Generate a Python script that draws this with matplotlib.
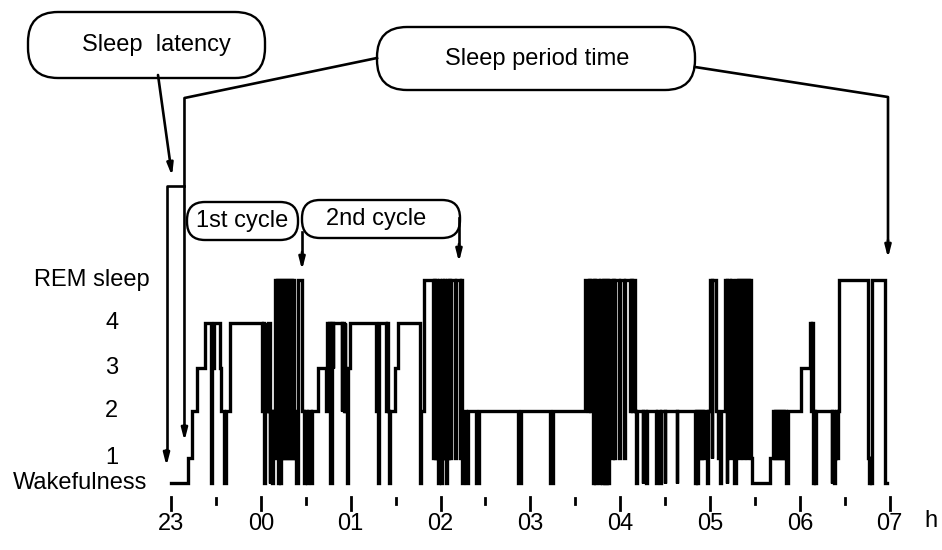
import matplotlib.pyplot as plt
from matplotlib.patches import FancyBboxPatch

plt.rcParams['font.family'] = ['Liberation Sans', 'DejaVu Sans']

# hypnogram: minute (after 23:00) at which each stage starts
times = [0, 11.4, 13.7, 17.4, 22.7, 27.0, 27.7, 28.7, 32.7, 33.7, 35.7, 36.7, 39.1,
         60.8, 61.4, 62.4, 63.1, 63.8, 64.4, 65.1, 65.8, 66.4, 67.4, 68.1,
         69.5, 70.1, 70.8, 71.5, 72.1, 72.8, 73.5, 74.1, 74.8, 75.5, 76.1, 76.8,
         77.5, 78.1, 78.8, 79.5, 80.1, 80.8, 81.5, 82.1, 82.8, 83.8, 84.5,
         87.8, 88.5, 89.2, 90.5, 91.2, 93.5, 94.2, 98.2,
         103.8, 104.5, 105.2, 105.8, 106.5, 107.2, 107.9, 108.5,
         113.9, 114.5, 115.2, 115.9, 116.5, 117.2, 117.9, 119.2,
         137.2, 137.9, 138.6, 139.2, 143.6, 144.2, 144.9, 145.6, 146.2, 149.6, 151.9,
         166.3, 167.0, 169.0, 175.0, 175.6, 176.3, 177.0, 177.6, 178.3, 179.0,
         179.6, 180.3, 181.0, 181.6, 182.3, 183.0, 183.6, 184.3, 185.0, 185.6,
         186.3, 187.0, 189.7, 190.3, 193.0, 193.7, 194.3, 195.0, 195.7,
         197.0, 198.0, 204.0, 205.4, 231.7, 233.4, 253.1, 255.1,
         276.5, 278.5, 279.1, 279.8, 280.5, 281.8, 282.5, 283.2, 283.8, 285.8,
         286.5, 287.8, 288.5, 289.2, 289.8, 290.5, 291.2, 291.8, 292.5, 294.5,
         295.2, 295.8, 296.5, 299.2, 299.8, 302.5, 303.2, 306.5, 307.2, 307.9,
         308.5, 309.9, 310.5, 311.2, 314.9, 315.5, 317.2, 317.9, 323.9, 324.6,
         326.6, 327.2, 329.6, 330.2, 337.6, 338.2,
         349.9, 350.6, 351.3, 351.9, 352.6, 353.3, 353.9, 354.6, 355.3, 355.9,
         357.6, 358.3, 359.9, 361.0, 361.6, 364.0, 365.3, 366.3, 367.6,
         370.0, 371.0, 371.6, 373.3, 374.0, 375.3, 376.0, 377.3, 378.0, 378.6,
         379.3, 380.0, 380.6, 381.3, 382.0, 382.6, 383.3, 384.0, 384.7, 385.3,
         386.0, 386.7, 387.3, 388.0,
         400.0, 402.0, 402.7, 403.4, 404.0, 404.7, 405.3, 406.0, 406.7, 407.4,
         408.0, 408.7, 409.4, 410.0, 410.7, 411.7, 421.0,
         426.7, 427.4, 428.1, 428.7, 429.4, 430.1, 430.7,
         441.1, 441.7, 442.7, 443.4, 444.1, 444.7, 445.4, 446.1,
         465.5, 466.1, 466.8, 467.5, 468.1, 477.1]
stages = ['W', '1', '2', '3', '4', 'W', '3', '4', '3', '2', 'W', '2', '4',
          '2', '4', 'W', '2', '4', '2', '4', 'W', '2', 'W', '2',
          'R', '1', 'R', 'W', 'R', 'W', 'R', '1', 'R', '1', 'R', '1',
          'R', '1', 'R', '1', 'R', '1', 'R', '1', '2', 'W', 'R',
          '2', 'W', '2', 'W', '2', 'W', '2', '3',
          '2', '4', '2', '4', 'W', '4', '3', '4',
          '2', '4', '2', '4', '2', 'W', '3', '4',
          '2', 'W', '2', '4', '2', '4', '2', 'W', '2', '3', '4',
          'W', '2', 'R', '1', 'R', '1', 'R', '1', 'W', 'R',
          '1', 'W', 'R', '1', 'R', '1', 'W', 'R', '1', 'R',
          '1', 'R', '1', 'R', '1', 'R', 'W', '1', '2',
          'W', '2', 'W', '2', 'W', '2', 'W', '2',
          'R', '2', 'R', '2', 'R', 'W', 'R', 'W', 'R', 'W',
          'R', 'W', 'R', 'W', 'R', 'W', 'R', 'W', 'R', '1',
          'R', '1', 'R', '1', 'R', '1', 'R', '2', 'R', '2',
          'R', '2', 'W', '2', 'W', '2', 'W', '2', 'W', '2',
          'W', '2', 'W', '2', 'W', '2',
          'W', '2', 'W', '2', '1', '2', '1', '2', '1', '2',
          'W', '2', 'R', '1', 'R', '2', '1', 'W', '2',
          'R', 'W', 'R', '1', 'R', '2', 'W', 'R', '2', 'R',
          '1', 'R', '2', 'R', '1', 'R', '2', 'R', '1', 'R',
          '2', 'R', '1', 'W',
          '1', '2', '1', '2', '1', '2', '1', '2', '1', '2',
          '1', '2', '1', '2', 'W', '2', '3',
          '4', '2', '4', 'W', '2', 'W', '2',
          'W', '2', 'W', '1', '2', '1', '2', 'R',
          '1', 'W', '1', 'W', 'R', 'W']
end_time = 477.8

stage_keys = ['W', '1', '2', '3', '4', 'R']
stage_labels = ['Wakefulness', '1', '2', '3', '4', 'REM sleep']
stage_pos = {'W': 0.0, '1': 0.57, '2': 1.64, '3': 2.61, '4': 3.64, 'R': 4.61}
hour_labels = ['23', '00', '01', '02', '03', '04', '05', '06', '07']

# annotated events (minutes after 23:00)
lights_off = -3.0
sleep_onset = 9.0
cycle1_end = 87.5
cycle2_end = 192.3
sleep_end = 478.8

# page geometry (pixels)
W_PX, H_PX = 942, 550
X0, PX_PER_MIN = 171.0, 1.4975
Y0, PX_PER_LEVEL = 483.0, 44.0


def px(m):
    return X0 + m * PX_PER_MIN


fig = plt.figure(figsize=(W_PX / 100, H_PX / 100), dpi=100)
ax = fig.add_axes([0, 0, 1, 1])
ax.set_xlim(-X0 / PX_PER_MIN, (W_PX - X0) / PX_PER_MIN)
ax.set_ylim((Y0 - H_PX) / PX_PER_LEVEL, Y0 / PX_PER_LEVEL)
ax.axis('off')

lv = [stage_pos[s] for s in stages]
ax.step(times + [end_time], lv + [lv[-1]], where='post', color='black',
        lw=2.4, solid_joinstyle='miter')

FS = 17

# stage labels
for key, lab in zip(stage_keys, stage_labels):
    if lab == 'REM sleep':
        ax.text(-14.5, stage_pos[key], lab, ha='right', va='center', fontsize=FS)
    elif lab == 'Wakefulness':
        ax.text(-16, stage_pos[key], lab, ha='right', va='center', fontsize=FS)
    else:
        ax.text(-39.5, stage_pos[key], lab, ha='center', va='center', fontsize=FS)

# overlay in pixel coordinates for ticks and annotations
ov = fig.add_axes([0, 0, 1, 1])
ov.set_xlim(0, W_PX)
ov.set_ylim(H_PX, 0)
ov.axis('off')

for i, lab in enumerate(hour_labels):
    x = px(60 * i)
    ov.plot([x, x], [497, 510], color='black', lw=2.0)
    ov.text(x, 524, lab, ha='center', va='center', fontsize=FS)
    if i < len(hour_labels) - 1:
        xm = px(60 * i + 30)
        ov.plot([xm, xm], [498, 504], color='black', lw=2.0)
ov.text(931, 521, 'h', ha='center', va='center', fontsize=FS)


def pill(x0, y0, x1, y1, r, text, tx=None):
    box = FancyBboxPatch((x0, y0), x1 - x0, y1 - y0,
                         boxstyle='round,pad=0,rounding_size=%g' % r,
                         fc='white', ec='black', lw=1.7)
    ov.add_patch(box)
    ov.text((x0 + x1) / 2 if tx is None else tx, (y0 + y1) / 2, text,
            ha='center', va='center', fontsize=FS)


def arrow(p0, p1):
    ov.annotate('', xy=p1, xytext=p0,
                arrowprops=dict(arrowstyle='-|>,head_length=0.7,head_width=0.18',
                                lw=1.9, color='black', shrinkA=0, shrinkB=0))


# sleep latency
pill(28, 12, 265, 78, 30, 'Sleep  latency', tx=156)
arrow((158, 75), (px(0.7), 176))
ov.plot([px(lights_off), px(lights_off), px(sleep_onset)], [450, 186, 186],
        color='black', lw=1.9)
arrow((px(lights_off), 450), (px(lights_off), 466))

# sleep period time
ov.plot([377, px(sleep_onset), px(sleep_onset)], [58, 98, 425], color='black', lw=1.9)
arrow((px(sleep_onset), 425), (px(sleep_onset), 441))
ov.plot([695, px(sleep_end), px(sleep_end)], [67, 97, 245], color='black', lw=1.9)
arrow((px(sleep_end), 240), (px(sleep_end), 258))
pill(377, 27, 695, 90, 30, 'Sleep period time', tx=537)

# cycles
ov.plot([px(cycle1_end), px(cycle1_end)], [232, 255], color='black', lw=1.9)
arrow((px(cycle1_end), 252), (px(cycle1_end), 270))
ov.plot([px(cycle2_end), px(cycle2_end)], [218, 246], color='black', lw=1.9)
arrow((px(cycle2_end), 244), (px(cycle2_end), 262))
pill(187, 202, 298, 240, 18, '1st cycle')
pill(302, 200, 460, 238, 18, '2nd cycle', tx=376)

fig.savefig('out.png', dpi=100)
